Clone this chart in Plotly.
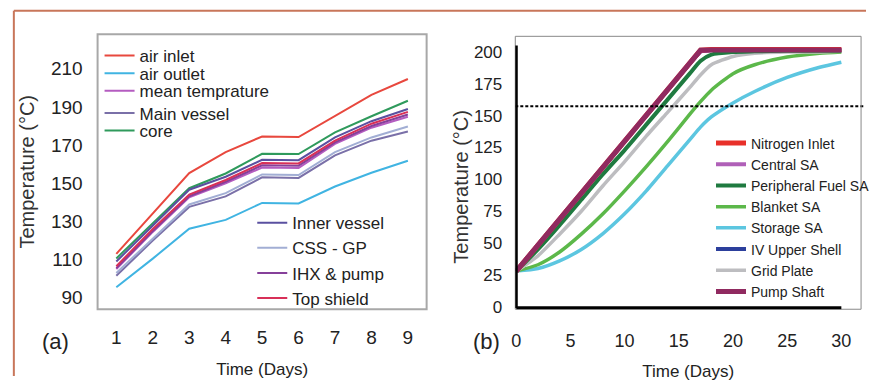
import plotly.graph_objects as go

# ---------------- Panel (a) data ----------------
days_a = [1, 2, 3, 4, 5, 6, 7, 8, 9]
air_inlet = [113, 134, 155.3, 166.3, 174.5, 174.2, 185.1, 196.3, 204.6]
air_outlet = [95.5, 110.5, 126.2, 130.8, 139.7, 139.4, 148.3, 155.5, 161.8]
mean_temp = [105, 124.5, 142.6, 150, 158.2, 158, 170.6, 179.1, 184.8]
main_vessel = [101.5, 120, 137.6, 143.1, 153.1, 152.8, 164.6, 172.3, 177.1]
core = [110.6, 129, 147.4, 155.1, 165.4, 165.3, 176.6, 185.1, 193.2]
inner_vessel = [109, 128, 146.6, 153.4, 162.3, 162.1, 174, 182.5, 188.9]
css_gp = [103, 121, 138.9, 144.8, 154.6, 154.3, 166.3, 174, 179.7]
ihx_pump = [105.5, 125, 143.2, 150.8, 159.4, 159.2, 171.4, 180, 186]
top_shield = [106.5, 126, 144, 151.7, 160.6, 160.4, 172.3, 181.2, 187.4]

yticks_a = [90, 110, 130, 150, 170, 190, 210]

# ---------------- Panel (b) data ----------------
days_b = [0, 2, 4, 6, 8, 10, 12, 14, 16, 17, 18, 20, 22, 25, 28, 30]
nitrogen_inlet = [28, 48.5, 69, 89.5, 110, 130, 151, 171, 192, 201.5, 202, 202, 202, 202, 202, 202]
central_sa = [28, 48, 68.5, 89, 109.5, 129.5, 150.5, 170.5, 191, 200.5, 201.5, 201.5, 201.5, 201.5, 201.5, 201.5]
peripheral_fuel_sa = [28, 45, 64, 84, 104, 123, 143, 163, 183, 193, 198, 200, 200.5, 201, 201, 201]
blanket_sa = [28, 33, 43, 57, 73, 91, 110, 130, 151, 161, 170, 183, 190, 196, 199, 200]
storage_sa = [28, 30, 36, 45, 57.5, 73, 91, 111, 131, 141, 149, 160, 169, 180, 188, 192]
iv_upper_shell = [28, 48, 68.5, 89, 109.5, 129.5, 150.5, 170.5, 191, 200.5, 201.5, 201.5, 201.5, 201.5, 201.5, 201.5]
grid_plate = [28, 40, 57, 75, 95, 114, 134, 153, 172, 182, 190, 196.5, 199, 200, 200, 200.5]
pump_shaft = [28, 48.5, 69, 89.5, 110, 130, 151, 171, 192, 201.3, 201.5, 201.5, 201.5, 201.5, 201.5, 201.5]
threshold_b = 157.5

yticks_b = [0, 25, 50, 75, 100, 125, 150, 175, 200]
xticks_b = [0, 5, 10, 15, 20, 25, 30]

FONT = "Liberation Sans, Arial, sans-serif"

W, H = 875, 383


def px(x):
    return x / W


def py(y):
    return 1 - y / H


fig = go.Figure()

# ---- panel (a) traces ----
a_series = [
    ("air inlet", air_inlet, "#e8483e", "legend"),
    ("air outlet", air_outlet, "#40b4e2", "legend3"),
    ("mean temprature", mean_temp, "#b45cc0", "legend4"),
    ("Main vessel", main_vessel, "#7a70a8", "legend5"),
    ("core", core, "#2f9a5c", "legend6"),
    ("Inner vessel", inner_vessel, "#5a50a0", "legend2"),
    ("CSS - GP", css_gp, "#a2aed4", "legend2"),
    ("IHX & pump", ihx_pump, "#86409a", "legend2"),
    ("Top shield", top_shield, "#d83058", "legend2"),
]
for name, vals, col, lg in a_series:
    fig.add_trace(go.Scatter(x=days_a, y=vals, name=name, mode="lines",
                             line=dict(color=col, width=2), xaxis="x", yaxis="y",
                             legend=lg))

# ---- panel (b) traces ----
b_series = [
    ("Storage SA", storage_sa, "#5cc6e0", 3.5, "spline"),
    ("Blanket SA", blanket_sa, "#5cb84a", 3.5, "spline"),
    ("Grid Plate", grid_plate, "#bdbdc0", 3.5, "spline"),
    ("Peripheral Fuel SA", peripheral_fuel_sa, "#1f7a40", 4, "spline"),
    ("IV Upper Shell", iv_upper_shell, "#2c3f9c", 4, "linear"),
    ("Central SA", central_sa, "#b060b8", 4, "linear"),
    ("Nitrogen Inlet", nitrogen_inlet, "#e8302a", 5, "linear"),
    ("Pump Shaft", pump_shaft, "#902a60", 5, "linear"),
]
legend_order_b = ["Nitrogen Inlet", "Central SA", "Peripheral Fuel SA", "Blanket SA",
                  "Storage SA", "IV Upper Shell", "Grid Plate", "Pump Shaft"]
for name, vals, col, w, shape in b_series:
    fig.add_trace(go.Scatter(x=days_b, y=vals, name=name, mode="lines",
                             line=dict(color=col, width=w, shape=shape, smoothing=0.6),
                             xaxis="x2", yaxis="y2", legend="legend7",
                             legendrank=legend_order_b.index(name) + 1))

# threshold dashed line (b)
fig.add_shape(type="line", xref="paper", yref="y2", x0=px(519), x1=px(874),
              y0=threshold_b, y1=threshold_b, line=dict(color="black", width=2, dash="3px,2px"))

# panel boxes
fig.add_shape(type="rect", xref="x domain", yref="y domain", x0=0, x1=1, y0=0, y1=1,
              line=dict(color="#a8a8a8", width=2), layer="above")
fig.add_shape(type="rect", xref="x2 domain", yref="y2 domain", x0=0, x1=1, y0=0, y1=1,
              line=dict(color="#888888", width=1), layer="above")
# thick black axes of (b)
fig.add_shape(type="line", xref="x2", yref="y2", x0=0, x1=0, y0=-1, y1=205,
              line=dict(color="black", width=3), layer="above")
fig.add_shape(type="line", xref="x2", yref="y2", x0=0, x1=30, y0=-1, y1=-1,
              line=dict(color="black", width=3.5), layer="above")

# outer brown frame
fig.add_shape(type="line", xref="paper", yref="paper", x0=px(10), x1=1, y0=py(11), y1=py(11),
              line=dict(color="#c8765a", width=2))
fig.add_shape(type="line", xref="paper", yref="paper", x0=px(10), x1=px(10), y0=py(11), y1=0,
              line=dict(color="#c8765a", width=2))

# panel labels
fig.add_annotation(text="(a)", xref="paper", yref="paper", x=px(37), y=py(363),
                   showarrow=False, font=dict(family=FONT, size=22, color="#222"))
fig.add_annotation(text="(b)", xref="paper", yref="paper", x=px(490), y=py(363),
                   showarrow=False, font=dict(family=FONT, size=22, color="#222"))
# y title of (b)
fig.add_annotation(text="Temperature (°C)", xref="paper", yref="paper", x=px(463), y=py(190),
                   textangle=-90, showarrow=False, font=dict(family=FONT, size=20, color="#333"))

axis_common = dict(showgrid=False, zeroline=False, showline=False, ticks="")

legend_common = dict(bgcolor="rgba(0,0,0,0)", borderwidth=0, orientation="v",
                     xanchor="left", yanchor="middle", itemclick=False,
                     tracegroupgap=0)

fig.update_layout(
    width=W, height=H,
    margin=dict(l=0, r=0, t=0, b=0),
    paper_bgcolor="white", plot_bgcolor="white",
    xaxis=dict(domain=[px(95), px(429)], range=[0.486, 9.514], tickvals=days_a, anchor="y",
               tickfont=dict(family=FONT, size=19, color="#222"), ticklabelstandoff=15,
               title=dict(text="Time (Days)", font=dict(family=FONT, size=17, color="#222"),
                          standoff=15), **axis_common),
    yaxis=dict(domain=[py(315), py(35)], range=[83.98, 228], tickvals=yticks_a, anchor="x",
               tickfont=dict(family=FONT, size=19, color="#222"), ticklabelstandoff=14,
               title=dict(text="Temperature (°C)", font=dict(family=FONT, size=20, color="#333"),
                          standoff=10), **axis_common),
    xaxis2=dict(domain=[px(519), px(870)], range=[-0.09, 31.82], tickvals=xticks_b, anchor="y2",
                tickfont=dict(family=FONT, size=18, color="#222"), ticklabelstandoff=19,
                title=dict(text="Time (Days)", font=dict(family=FONT, size=17, color="#222"),
                           standoff=14), **axis_common),
    yaxis2=dict(domain=[py(315), py(37)], range=[-1.93, 212.3], tickvals=yticks_b, anchor="x2",
                tickfont=dict(family=FONT, size=17, color="#222"), ticklabelstandoff=12,
                **axis_common),
    showlegend=True,
    legend=dict(x=px(97), y=py(57), font=dict(family=FONT, size=17, color="#222"), **legend_common),
    legend3=dict(x=px(97), y=py(75), font=dict(family=FONT, size=17, color="#222"), **legend_common),
    legend4=dict(x=px(97), y=py(93), font=dict(family=FONT, size=17, color="#222"), **legend_common),
    legend5=dict(x=px(97), y=py(115.5), font=dict(family=FONT, size=17, color="#222"), **legend_common),
    legend6=dict(x=px(97), y=py(133.5), font=dict(family=FONT, size=17, color="#222"), **legend_common),
    legend2=dict(x=px(252), y=py(265.5), font=dict(family=FONT, size=17, color="#222"), **legend_common),
    legend7=dict(x=px(718), y=py(221.5), font=dict(family=FONT, size=14, color="#222"), **legend_common),
)

fig.write_html("out.html")
